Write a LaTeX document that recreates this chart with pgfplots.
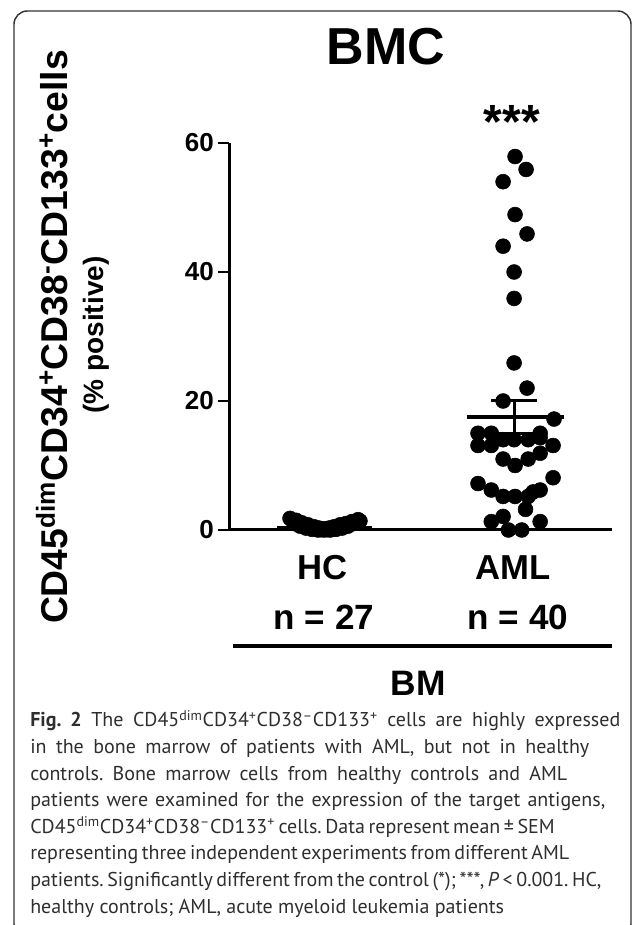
\documentclass[border=0pt]{standalone}
\usepackage{pgfplots}
\pgfplotsset{compat=1.18}
\usepackage{fontspec}
\setmainfont{Liberation Sans}
\newfontfamily\capfont{PT Sans}
\newlength\px
\setlength\px{0.75pt}
\definecolor{capgray}{HTML}{2E2E2E}

% HC: 27 healthy controls, AML: 40 patients (% positive)
\pgfplotstableread{
x y
0.821 1.8
0.853 1.5
0.884 1.1
0.916 0.8
0.947 0.5
0.974 0.3
1.000 0.2
1.026 0.3
1.053 0.5
1.084 0.8
1.116 1.0
1.147 1.3
1.179 1.6
0.842 1.0
0.874 0.6
0.905 0.3
0.937 0.1
0.968 0.0
1.000 0.0
1.032 0.0
1.063 0.1
1.095 0.3
1.126 0.6
1.158 1.0
1.189 1.4
0.984 0.05
1.016 0.05
}\hcdata
\pgfplotstableread{
x y
2.005 57.9
2.063 55.9
1.942 54.0
2.005 48.9
2.068 45.9
1.942 44.0
2.000 40.0
2.000 35.9
2.000 25.9
2.068 22.0
1.942 20.0
2.210 17.2
1.810 15.0
1.880 15.0
2.137 15.0
1.942 14.0
2.000 14.0
2.074 14.0
2.137 14.3
1.810 13.1
1.880 13.1
2.205 13.1
2.137 11.9
1.942 11.0
2.074 11.0
2.005 10.0
2.205 8.1
1.810 7.2
1.880 6.2
2.137 6.2
1.942 5.2
2.005 5.2
2.074 5.2
2.100 5.9
2.060 3.2
1.942 2.1
1.880 1.3
2.137 1.3
1.970 0.0
2.040 0.0
}\amldata

\begin{document}
\begin{tikzpicture}
\useasboundingbox (0,0) rectangle (474.75pt,693.75pt);

\begin{axis}[
    at={(171.75pt,296.25pt)}, anchor=south west,
    scale only axis, width=287.25pt, height=290.25pt,
    xmin=0.5, xmax=2.515, ymin=0, ymax=60,
    axis x line*=bottom, axis y line*=left,
    axis line style={line width=2.25pt, -},
    xtick=\empty, ytick={0,20,40,60},
    tick align=outside, major tick length=8.25pt,
    tick style={line width=2pt, black},
    yticklabel style={font=\fontsize{19.5}{20}\selectfont\bfseries, inner sep=0pt, xshift=-3pt},
    /pgf/number format/assume math mode=true,
    clip=false,
]
\addplot[only marks, mark=*, mark size=5.6pt, black] table {\hcdata};
\addplot[only marks, mark=*, mark size=5.6pt, black] table {\amldata};
% mean +- SEM
\addplot[black, line width=2.6pt] coordinates {(0.75,0.4) (1.25,0.4)};
\addplot[black, line width=2.6pt] coordinates {(1.75,17.5) (2.26,17.5)};
\addplot[black, line width=2.2pt] coordinates {(2,14.9) (2,20.1)};
\addplot[black, line width=2.2pt] coordinates {(1.88,20.1) (2.12,20.1)};
\addplot[black, line width=2.2pt] coordinates {(1.88,14.9) (2.12,14.9)};
\draw[line width=1.5pt] (axis cs:1,0) -- ++(0pt,-4pt);
\draw[line width=1.5pt] (axis cs:2,0) -- ++(0pt,-4pt);
\end{axis}

\begin{scope}[x=0.75pt,y=0.75pt]
\begin{scope}
\clip (0,0) rectangle (633,925);
\draw[line width=1.1pt, black!80, rounded corners=10pt] (14,-12) rectangle (631,914);
\end{scope}

\node[font=\fontsize{39}{40}\selectfont\bfseries, inner sep=0pt] at (386,878) {BMC};
\node[font=\fontsize{36}{36}\selectfont\bfseries, inner sep=0pt, anchor=north] at (512,820) {***};

\node[font=\fontsize{26}{27}\selectfont\bfseries, inner sep=0pt] at (323,357) {HC};
\node[font=\fontsize{26}{27}\selectfont\bfseries, inner sep=0pt] at (513,357) {AML};
\node[font=\fontsize{26.3}{27}\selectfont\bfseries, inner sep=0pt] at (324,308) {n = 27};
\node[font=\fontsize{26.3}{27}\selectfont\bfseries, inner sep=0pt] at (518,308) {n = 40};
\draw[line width=2.4pt] (233,279) -- (612,279);
\node[font=\fontsize{26.5}{28}\selectfont\bfseries, inner sep=0pt] at (418,242) {BM};

\node[rotate=90, anchor=base, inner sep=0pt, font=\fontsize{28}{28}\selectfont\bfseries] at (67,588)
  {CD45\textsuperscript{dim}CD34\textsuperscript{+}CD38\textsuperscript{-}CD133\textsuperscript{+}cells};
\node[rotate=90, anchor=base, inner sep=0pt, font=\fontsize{21}{21}\selectfont\bfseries] at (103,590)
  {(\% positive)};

\node[anchor=base west, inner sep=0pt, text=capgray] at (30,198) {\parbox[t]{600\px}{%
  \capfont\fontsize{15}{19.95}\selectfont\setlength\parindent{0pt}\frenchspacing
  \makebox[590\px][s]{\textbf{Fig. 2} The CD45\textsuperscript{dim}CD34\textsuperscript{+}CD38\textsuperscript{–}CD133\textsuperscript{+} cells are highly expressed}\\
  \makebox[559\px][s]{in the bone marrow of patients with AML, but not in healthy}\\
  \makebox[537\px][s]{controls. Bone marrow cells from healthy controls and AML}\\
  \makebox[575\px][s]{patients were examined for the expression of the target antigens,}\\
  \makebox[521\px][s]{CD45\textsuperscript{dim}CD34\textsuperscript{+}CD38\textsuperscript{–}CD133\textsuperscript{+} cells. Data represent mean ± SEM}\\
  \makebox[537\px][s]{representing three independent experiments from different AML}\\
  \makebox[567\px][s]{patients. Significantly different from the control (*); ***, \textit{P} < 0.001. HC,}\\
  healthy controls; AML, acute myeloid leukemia patients}};
\end{scope}
\end{tikzpicture}
\end{document}
